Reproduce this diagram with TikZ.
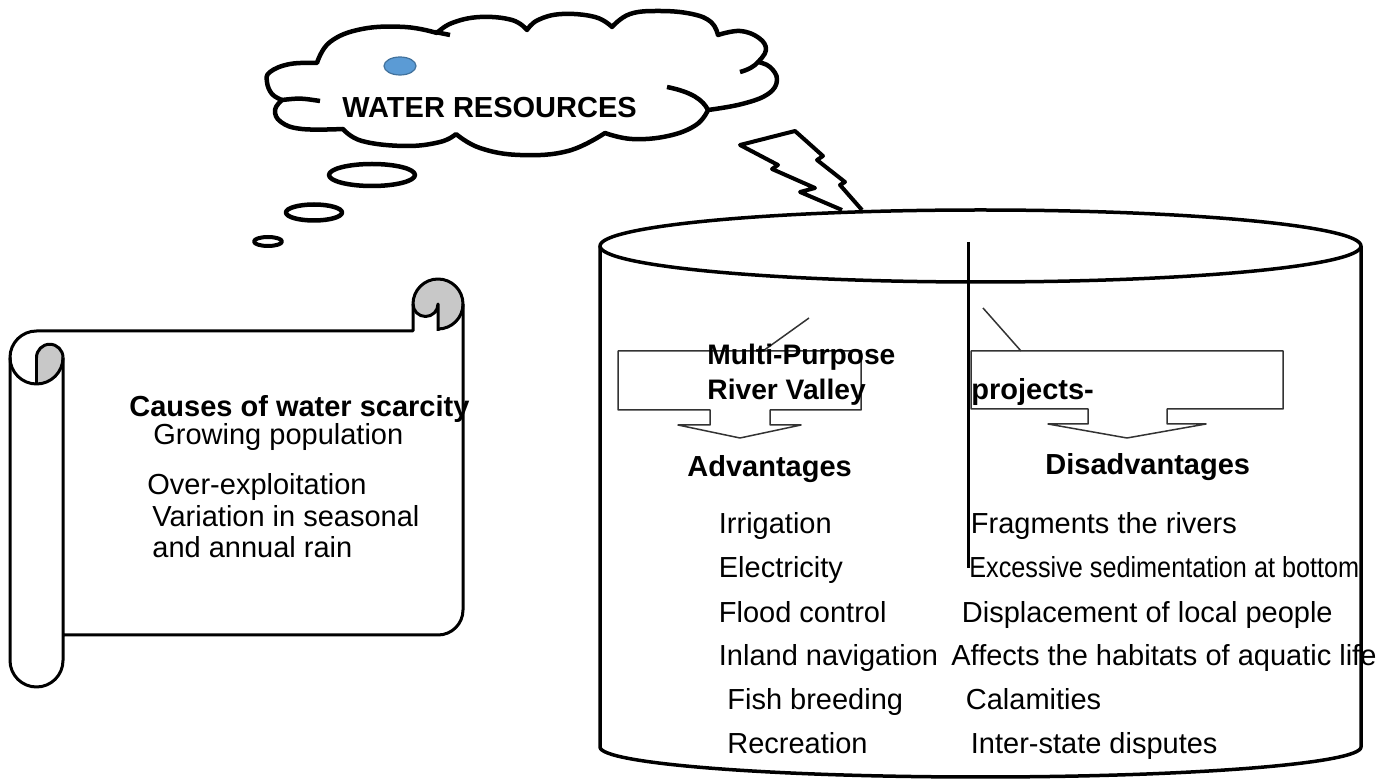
\documentclass[tikz,border=0pt]{standalone}
\usepackage{fontspec}
\setmainfont{Liberation Sans}
\usepackage{tikz}

\definecolor{dotblue}{RGB}{91,155,213}
\definecolor{dotedge}{RGB}{65,113,156}
\definecolor{curlgray}{RGB}{200,200,200}

\begin{document}
\begin{tikzpicture}[x=0.5pt,y=-0.5pt,line join=round,
	txt/.style={anchor=base west,inner sep=0pt,font=\fontsize{14.5}{17}\selectfont},
	head/.style={txt,font=\fontsize{14.5}{17}\selectfont\bfseries},
	puff/.style={line width=2.25pt},
	roll/.style={line width=1.5pt},
	drum/.style={line width=1.75pt},
	callout/.style={line width=0.75pt,draw=black!80}]
	\useasboundingbox (0,0) rectangle (1378,780);
	%
	\draw[puff] plot[smooth,tension=0.7] coordinates {(317,63) (290,64) (270,72) (267,82) (272,94) (282,100)}
	-- plot[smooth,tension=0.7] coordinates {(282,100) (275,110) (281,122) (302,129) (343,129)}
	-- plot[smooth,tension=0.7] coordinates {(343,129) (362,141) (405,146) (440,142) (456,134)}
	-- plot[smooth,tension=0.7] coordinates {(456,134) (480,148) (520,155) (568,151) (605,133)}
	-- plot[smooth,tension=0.7] coordinates {(605,133) (632,139) (668,136) (696,125) (708,110)}
	-- plot[smooth,tension=0.7] coordinates {(708,110) (742,104) (768,94) (777,80) (770,67) (758,62)}
	-- plot[smooth,tension=0.7] coordinates {(758,62) (766,50) (759,38) (740,31) (718,35)}
	-- plot[smooth,tension=0.7] coordinates {(718,35) (711,22) (692,14) (660,11) (630,14) (612,27)}
	-- plot[smooth,tension=0.7] coordinates {(612,27) (595,17) (562,14) (538,20) (527,30)}
	-- plot[smooth,tension=0.7] coordinates {(527,30) (512,20) (480,17) (452,23) (437,33)}
	-- plot[smooth,tension=0.7] coordinates {(437,33) (405,27) (362,29) (330,42) (317,63)} -- cycle;
	\draw[puff] (282,100) .. controls (300,98) .. (320,101);
	\draw[puff] (667,87) .. controls (692,92) and (703,100) .. (708,110);
	\draw[puff] (740,72) .. controls (748,70) and (755,66) .. (758,62);
	\draw[puff] (435,32) -- (450,35);
	\filldraw[fill=dotblue,draw=dotedge,line width=0.6pt] (400,66) ellipse[x radius=16,y radius=9];
	\node[head] (water) at (342,118) {WATER RESOURCES};
	%
	\draw[puff] (372,175) ellipse[x radius=43,y radius=11];
	\draw[puff] (314,212.5) ellipse[x radius=28,y radius=8];
	\draw[puff,line width=2pt] (268,241.5) ellipse[x radius=14,y radius=4.5];
	%
	\draw[line width=2pt] (842,210) -- (800,192) -- (815,188) -- (772,169) -- (778,165) -- (740,145)
	-- (795,131) -- (823,156) -- (817,160) -- (845,182) -- (840,185) -- (862,210);
	%
	\fill[curlgray] (36.5,357.5) arc[start angle=180,end angle=360,radius=13.25]
	arc[start angle=0,end angle=90,radius=26.5] -- cycle;
	\fill[curlgray] (413,304) arc[start angle=180,end angle=0,radius=12.5] -- (438,329)
	arc[start angle=90,end angle=-180,radius=25] -- cycle;
	\draw[roll] (63,635) -- (438,635) arc[start angle=90,end angle=0,radius=25] -- (463,304)
	arc[start angle=0,end angle=-180,radius=25] -- (413,331) -- (36.5,331)
	arc[start angle=-90,end angle=-180,radius=26.5] -- (10,660.5)
	arc[start angle=180,end angle=0,radius=26.5] -- (63,357.5);
	\draw[roll] (10,357.5) arc[start angle=180,end angle=0,radius=26.5];
	\draw[roll] (36.5,357.5) arc[start angle=180,end angle=360,radius=13.25];
	\draw[roll] (36.5,357.5) -- (36.5,384);
	\draw[roll] (413,304) arc[start angle=180,end angle=0,radius=12.5] -- (438,331);
	\draw[roll] (438,329) arc[start angle=90,end angle=0,radius=25];
	%
	\node[head] (causes) at (129,417) {Causes of water scarcity};
	\node[txt] (c1) at (153,445) {Growing population};
	\node[txt] (c2) at (147,495) {Over-exploitation};
	\node[txt] (c3) at (152,527) {Variation in seasonal};
	\node[txt] (c4) at (152,558) {and annual rain};
	%
	\draw[drum] (600,246) -- (600,747) arc[start angle=180,end angle=0,x radius=380.5,y radius=30] -- (1361,246);
	\draw[drum] (980.5,246) ellipse[x radius=380.5,y radius=36];
	\draw[line width=1.5pt] (968,242) -- (968,568);
	%
	\draw[callout] (618,351) -- (861,351) -- (861,410) -- (770,410) -- (770,425) -- (801,425) -- (740,438)
	-- (678,425) -- (710,425) -- (710,410) -- (618,410) -- cycle;
	\draw[callout] (809,318) -- (763,351);
	\draw[callout] (971,351) -- (1283,351) -- (1283,409) -- (1167,409) -- (1167,424) -- (1206,424) -- (1127,438)
	-- (1048,424) -- (1088,424) -- (1088,409) -- (971,409) -- cycle;
	\draw[callout] (983,308) -- (1021,351);
	%
	\node[head,font=\fontsize{14.1}{17}\selectfont\bfseries] (mp) at (707,365) {Multi-Purpose};
	\node[head,font=\fontsize{14.1}{17}\selectfont\bfseries] (rv) at (707,400) {River Valley};
	\node[head] (proj) at (971,400) {projects-};
	\node[head] (adv) at (687,477) {Advantages};
	\node[head] (dis) at (1045,475) {Disadvantages};
	%
	\node[txt] (a1) at (718.5,534) {Irrigation};
	\node[txt] (a2) at (718.5,578) {Electricity};
	\node[txt] (a3) at (718.5,623) {Flood control};
	\node[txt] (a4) at (718.5,666) {Inland navigation};
	\node[txt] (a5) at (727,710) {Fish breeding};
	\node[txt] (a6) at (727,754) {Recreation};
	%
	\node[txt] (d1) at (970.5,534) {Fragments the rivers};
	\node[txt] (d2) at (969,578) {\scalebox{0.87}[1]{Excessive sedimentation at bottom}};
	\node[txt] (d3) at (961.5,623) {Displacement of local people};
	\node[txt] (d4) at (951,666) {Affects the habitats of aquatic life};
	\node[txt] (d5) at (965.5,710) {Calamities};
	\node[txt] (d6) at (970.5,754) {Inter-state disputes};
\end{tikzpicture}
\end{document}
